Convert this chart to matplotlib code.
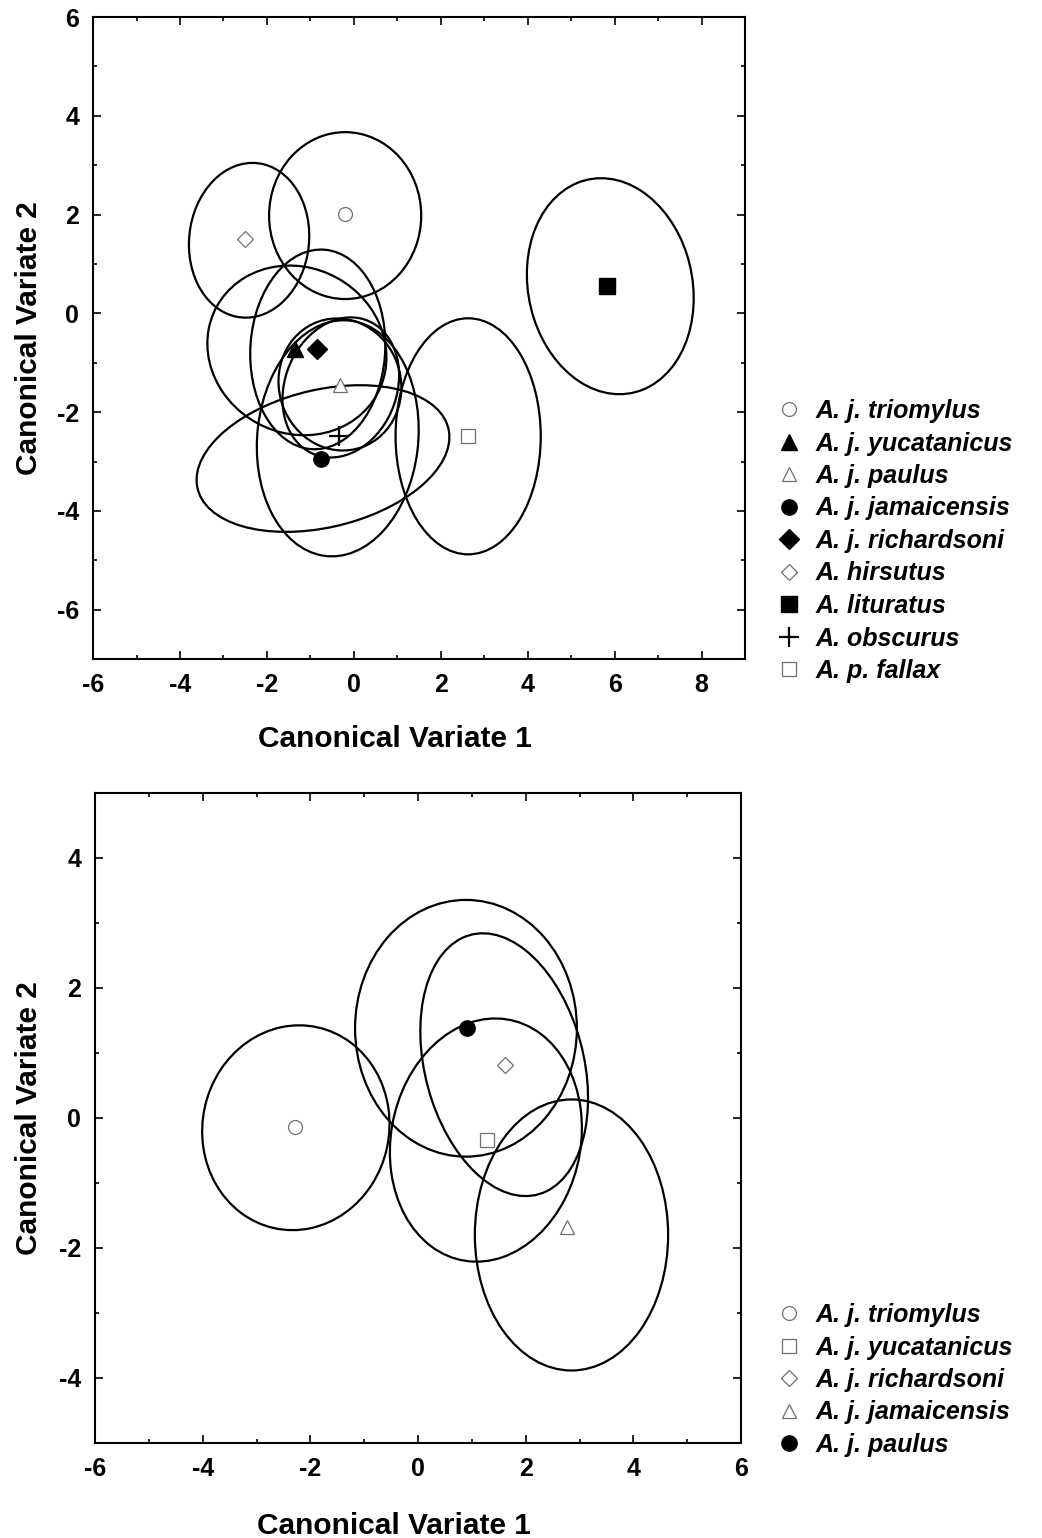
import matplotlib
matplotlib.use("Agg")
import matplotlib.pyplot as plt
from matplotlib.patches import Ellipse
from matplotlib.lines import Line2D
from matplotlib.ticker import MultipleLocator

plt.rcParams['font.family'] = ['Liberation Sans', 'DejaVu Sans']
plt.rcParams['font.weight'] = 'bold'
plt.rcParams['axes.unicode_minus'] = False

# ---------------- Top panel data ----------------
top_species = ["A. j. triomylus", "A. j. yucatanicus", "A. j. paulus", "A. j. jamaicensis",
               "A. j. richardsoni", "A. hirsutus", "A. lituratus", "A. obscurus", "A. p. fallax"]
top_x = [-0.21, -1.36, -0.32, -0.76, -0.85, -2.51, 5.83, -0.35, 2.63]
top_y = [2.01, -0.73, -1.46, -2.94, -0.73, 1.50, 0.55, -2.49, -2.49]
top_markers = ["o", "^", "^", "o", "D", "D", "s", "+", "s"]
top_filled = [False, True, False, True, True, False, True, True, False]

# confidence ellipses (center x, center y, width, height, angle)
top_ell_cx = [-0.20, -1.31, -0.32, -0.71, -0.83, -2.41, 5.90, -0.37, 2.63, -0.30]
top_ell_cy = [1.98, -0.75, -1.44, -2.94, -0.73, 1.48, 0.55, -2.53, -2.49, -1.50]
top_ell_w = [3.50, 4.15, 2.85, 5.90, 3.10, 2.75, 3.75, 3.70, 3.34, 3.00]
top_ell_h = [3.38, 3.40, 2.65, 2.80, 4.05, 3.15, 4.45, 4.80, 4.78, 2.50]
top_ell_ang = [0, -12, -20, 11, -5, -12, 20, -8, 0, 54]

# ---------------- Bottom panel data ----------------
bot_species = ["A. j. triomylus", "A. j. yucatanicus", "A. j. richardsoni",
               "A. j. jamaicensis", "A. j. paulus"]
bot_x = [-2.28, 1.28, 1.62, 2.77, 0.91]
bot_y = [-0.14, -0.34, 0.82, -1.68, 1.38]
bot_markers = ["o", "s", "D", "^", "o"]
bot_filled = [False, False, False, False, True]

bot_ell_cx = [-2.27, 1.26, 1.60, 2.85, 0.89]
bot_ell_cy = [-0.15, -0.34, 0.82, -1.80, 1.38]
bot_ell_w = [3.49, 3.45, 2.90, 3.59, 4.12]
bot_ell_h = [3.14, 3.85, 4.20, 4.17, 3.95]
bot_ell_ang = [10, -32, 22, 0, 0]

fig = plt.figure(figsize=(10.42, 15.38), dpi=100)
ax1 = fig.add_axes([0.0893, 0.5715, 0.6257, 0.4174])
ax2 = fig.add_axes([0.0912, 0.0618, 0.6200, 0.4226])

GRAY = "#707070"


def style_axis(ax, xlim, ylim, xmaj, ymaj):
    ax.set_xlim(*xlim)
    ax.set_ylim(*ylim)
    ax.set_xticks(xmaj)
    ax.set_yticks(ymaj)
    ax.xaxis.set_minor_locator(MultipleLocator(1))
    ax.yaxis.set_minor_locator(MultipleLocator(1))
    ax.tick_params(which='both', direction='in', top=True, right=True, width=1.2)
    ax.tick_params(which='major', length=6, labelsize=18, pad=10)
    ax.tick_params(which='minor', length=3)
    for lab in ax.get_xticklabels() + ax.get_yticklabels():
        lab.set_fontweight('bold')
    for s in ax.spines.values():
        s.set_linewidth(1.5)
    ax.set_xlabel("Canonical Variate 1", fontsize=21.5, fontweight='bold')
    ax.set_ylabel("Canonical Variate 2", fontsize=21.5, fontweight='bold')


def draw(ax, cx, cy, w, h, ang, xs, ys, mks, filled, labels):
    for i in range(len(cx)):
        ax.add_patch(Ellipse((cx[i], cy[i]), w[i], h[i], angle=ang[i], fill=False,
                             edgecolor='black', linewidth=1.6, zorder=2))
    handles = []
    for x, y, m, f, lab in zip(xs, ys, mks, filled, labels):
        if m == "+":
            kw = dict(color='black', markersize=14, markeredgewidth=1.6)
        elif f:
            size = 10 if m in ("D",) else 11
            kw = dict(markerfacecolor='black', markeredgecolor='black', markersize=size)
        else:
            size = 8 if m == "D" else 10
            kw = dict(markerfacecolor='white', markeredgecolor=GRAY, markersize=size,
                      markeredgewidth=0.9)
        ax.plot([x], [y], linestyle='none', marker=m, zorder=4, **kw)
        handles.append(Line2D([], [], linestyle='none', marker=m, label=lab, **kw))
    return handles


h1 = draw(ax1, top_ell_cx, top_ell_cy, top_ell_w, top_ell_h, top_ell_ang,
          top_x, top_y, top_markers, top_filled, top_species)
style_axis(ax1, (-6, 9), (-7, 6), [-6, -4, -2, 0, 2, 4, 6, 8], [-6, -4, -2, 0, 2, 4, 6])
ax1.yaxis.set_label_coords(-0.077, 0.5)
ax1.xaxis.set_label_coords(0.463, -0.103)

h2 = draw(ax2, bot_ell_cx, bot_ell_cy, bot_ell_w, bot_ell_h, bot_ell_ang,
          bot_x, bot_y, bot_markers, bot_filled, bot_species)
style_axis(ax2, (-6, 6), (-5, 5), [-6, -4, -2, 0, 2, 4, 6], [-4, -2, 0, 2, 4])
ax2.yaxis.set_label_coords(-0.080, 0.5)
ax2.xaxis.set_label_coords(0.463, -0.107)

legprops = dict(size=18, weight='bold', style='italic', family='Liberation Sans')
fig.legend(handles=h1, loc='upper left', bbox_to_anchor=(766 / 1042, 1 - 389 / 1538),
           frameon=False, prop=legprops, handlelength=1.0, handletextpad=0.6,
           labelspacing=0.34, borderaxespad=0)
fig.legend(handles=h2, loc='upper left', bbox_to_anchor=(766 / 1042, 1 - 1293 / 1538),
           frameon=False, prop=legprops, handlelength=1.0, handletextpad=0.6,
           labelspacing=0.34, borderaxespad=0)

fig.savefig("out.png", dpi=100)
